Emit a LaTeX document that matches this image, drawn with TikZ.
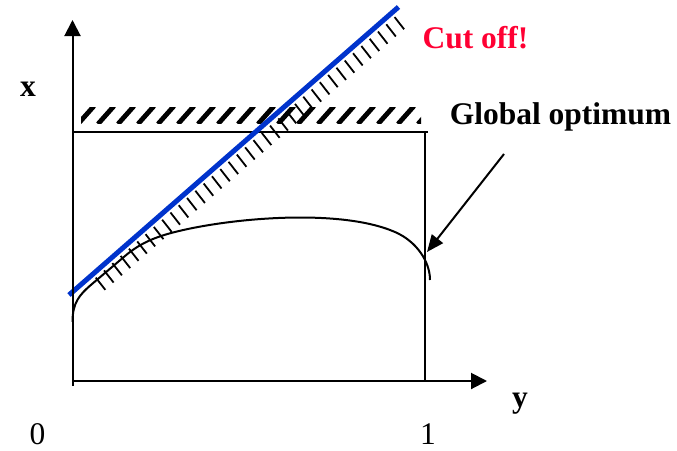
\documentclass[tikz,border=0pt]{standalone}
\usepackage{fontspec}
\setmainfont{Liberation Serif}
\usetikzlibrary{arrows.meta}
\definecolor{cutblue}{RGB}{0,51,204}
\definecolor{cutred}{RGB}{255,0,51}
\tikzset{
  lbl/.style={inner sep=0pt, anchor=base, font=\fontsize{31.5}{36}\selectfont\bfseries},
  num/.style={inner sep=0pt, anchor=base, font=\fontsize{31.5}{36}\selectfont},
  axis/.style={line width=2pt, -{Triangle[length=16pt,width=16pt]}},
  frame/.style={line width=1.8pt},
  curve/.style={line width=2pt},
  bandhatch/.style={line width=4.8pt},
  linehatch/.style={line width=1.8pt},
  cutline/.style={line width=5pt, cutblue},
  pointer/.style={line width=2pt, -{Triangle[length=17pt,width=14pt]}}
}
\begin{document}
\begin{tikzpicture}[x=1pt, y=-1pt]
\useasboundingbox (0,0) rectangle (677,450);
% key points
\coordinate (O) at (72.5,381);
\coordinate (ybot) at (72.5,386);
\coordinate (ytop) at (72.5,20);
\coordinate (xend) at (487,381);
\coordinate (TL) at (72.5,132);
\coordinate (TR) at (428,132);
\coordinate (RT) at (425,132);
\coordinate (RB) at (425,381);
\coordinate (cutA) at (69,295);
\coordinate (cutB) at (398.5,7);
\coordinate (ptrA) at (504,154);
\coordinate (ptrB) at (427,252);
% hatched band above the top bound
\begin{scope}
  \clip (81,107) rectangle (421,123.5);
  \foreach \k in {0,...,17} {
    \draw[bandhatch] ({78+20*\k},124) -- ({94+20*\k},106);
  }
\end{scope}
% frame
\draw[frame] (TL) -- (TR);
\draw[frame] (RT) -- (RB);
% feasible-region boundary curve
\draw[curve] (72.5,322) .. controls (72.5,303) and (79,295) .. (92,284)
  -- (125,256) .. controls (140,243.3) and (155,237) .. (175,232)
  .. controls (230,218) and (340,208) .. (395,232)
  .. controls (417,241.6) and (430,262) .. (430,280);
% hatches of the cut
\foreach \i in {0,...,36} {
  \pgfmathsetmacro\xx{93+8.3*\i}
  \pgfmathsetmacro\yy{295-0.872*(\xx-69)}
  \draw[linehatch] ({\xx+4.5*0.616},{\yy+4.5*0.788}) -- ({\xx+20*0.616},{\yy+20*0.788});
}
% the cut
\draw[cutline] (cutA) -- (cutB);
% axes
\draw[axis] (ybot) -- (ytop);
\draw[axis] (O) -- (xend);
% pointer
\draw[pointer] (ptrA) -- (ptrB);
% labels
\node[lbl] (xl) at (28,96) {x};
\node[lbl] (yl) at (520,407) {y};
\node[num] (zero) at (37.5,444) {0};
\node[num] (one) at (428,444) {1};
\node[lbl, text=cutred] (cut) at (475.5,48) {Cut off!};
\node[lbl] (glob) at (560.5,124) {Global optimum};
\end{tikzpicture}
\end{document}
